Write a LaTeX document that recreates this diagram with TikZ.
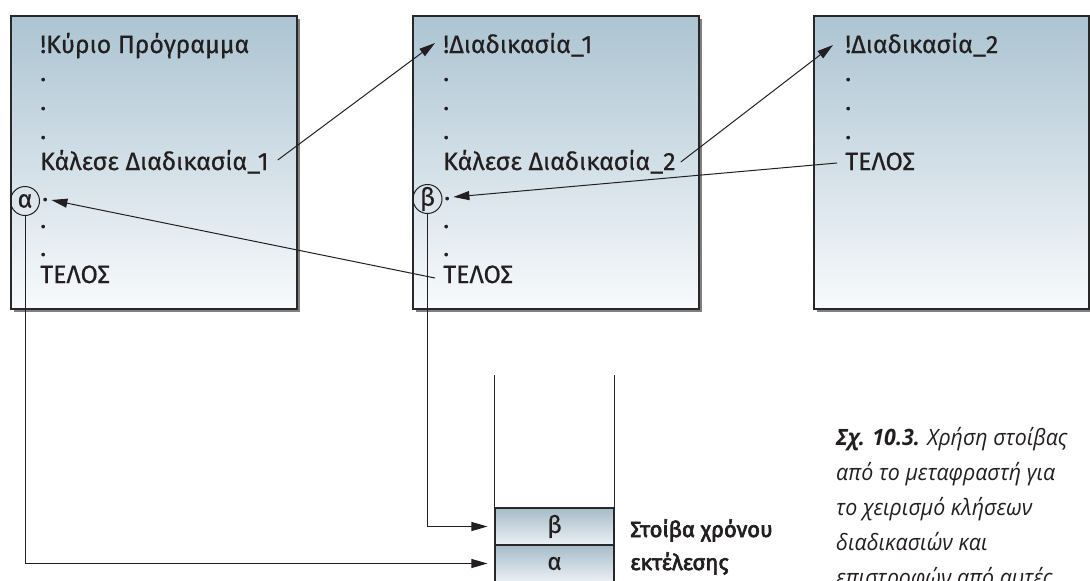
\documentclass[tikz,border=0pt]{standalone}
\usepackage{fontspec}
\setmainfont{Fira Sans}
\newfontfamily\dinf[FakeBold=0.5]{Fira Sans}
\newfontfamily\dinb[FakeBold=3]{Fira Sans}
\newfontfamily\capf[FakeStretch=0.95]{Open Sans}
\usetikzlibrary{arrows.meta,shadows,calc}
\definecolor{boxtop}{RGB}{172,196,210}
\definecolor{boxbot}{RGB}{248,250,252}
\definecolor{celltop}{RGB}{165,187,200}
\definecolor{cellbot}{RGB}{236,241,245}
\definecolor{edge}{RGB}{40,40,40}
\definecolor{ink}{RGB}{35,31,32}
\begin{document}
\begin{tikzpicture}[x=1pt,y=-1pt,
  box/.style={draw=edge, line width=1.6pt, top color=boxtop, bottom color=boxbot,
    drop shadow={shadow xshift=3.5pt,shadow yshift=-3.5pt,fill=black,opacity=0.5},
    minimum width=286pt, minimum height=293pt, anchor=north west, inner sep=0pt},
  code/.style={font=\dinf\fontsize{25}{25}\selectfont, anchor=base west, inner sep=0pt, text=ink},
  conn/.style={line width=1pt, draw=ink},
  tip/.style={-{Triangle[length=16pt,width=9pt]}},
  retmark/.style={draw=ink, line width=1pt, circle, minimum size=29pt, inner sep=0pt,
    font=\dinf\fontsize{25}{25}\selectfont, text=ink},
  cell/.style={draw=edge, line width=1.1pt, top color=celltop, bottom color=cellbot,
    minimum width=119pt, minimum height=37pt, inner sep=0pt,
    font=\dinf\fontsize{24}{24}\selectfont, text=ink},
  lbl/.style={font=\dinb\fontsize{22}{22}\selectfont, anchor=base west, inner sep=0pt, text=ink},
]
\useasboundingbox (0,0) rectangle (1090,581);
\clip (0,0) rectangle (1090,581);

% boxes
\node[box] (b1) at (10,15) {};
\node[box] (b2) at (412,15) {};
\node[box, minimum width=275pt] (b3) at (813,15) {};

% box 1
\node[code] (m0) at (40,53) {!Κύριο Πρόγραμμα};
\node[code] (m1) at (40,81) {.};
\node[code] (m2) at (40,110) {.};
\node[code] (m3) at (40,139) {.};
\node[code] (m4) at (40,170) {Κάλεσε Διαδικασία\_1};
\node[retmark] (ca) at (25,201) {α};
\node[code] (m5) at (42,201) {.};
\node[code] (m6) at (40,228) {.};
\node[code] (m7) at (40,256) {.};
\node[code] (m8) at (40,283) {ΤΕΛΟΣ};

% box 2
\node[code] (p0) at (443,53) {!Διαδικασία\_1};
\node[code] (p1) at (443,81) {.};
\node[code] (p2) at (443,110) {.};
\node[code] (p3) at (443,139) {.};
\node[code] (p4) at (443,170) {Κάλεσε Διαδικασία\_2};
\node[retmark] (cb) at (427.5,199) {β};
\node[code] (p5) at (444,200) {.};
\node[code] (p6) at (443,228) {.};
\node[code] (p7) at (443,256) {.};
\node[code] (p8) at (443,283) {ΤΕΛΟΣ};

% box 3
\node[code] (q0) at (845,53) {!Διαδικασία\_2};
\node[code] (q1) at (845,81) {.};
\node[code] (q2) at (845,110) {.};
\node[code] (q3) at (845,139) {.};
\node[code] (q4) at (845,170) {ΤΕΛΟΣ};

% stack
\node[cell] (sb) at (554.5,526.5) {β};
\node[cell] (sa) at (554.5,563.5) {α};
\draw[draw=edge, line width=1.1pt] (sb.north west) -- ++(0,-132);
\draw[draw=edge, line width=1.1pt] (sb.north east) -- ++(0,-132);
\node[lbl] (st1) at (630,537) {Στοίβα χρόνου};
\node[lbl] (st2) at (630,570) {εκτέλεσης};

% caption
\node[anchor=base west, inner sep=0pt, text=ink] (cap) at (836,445)
  {\parbox[t]{260pt}{\capf\itshape\fontsize{22.5}{35}\selectfont\raggedright
   {\bfseries Σχ. 10.3.} Χρήση στοίβας\\
   από το μεταφραστή για\\
   το χειρισμό κλήσεων\\
   διαδικασιών και\\
   επιστροφών από αυτές}};

% connectors
\draw[conn,tip] ($(m4.base east)+(9,-10)$) -- ($(p0.base west)+(-8,-10)$);
\draw[conn,tip] ($(p4.base east)+(5,-8)$) -- ($(q0.base west)+(-12,-8)$);
\draw[conn,tip] ($(q4.base west)+(-8,-7)$) -- ($(p5.base east)+(3,-3)$);
\draw[conn,tip] ($(p8.base west)+(-8,-5)$) -- ($(m5.base east)+(3,-1)$);
\draw[conn,tip,shorten >=7pt] (ca.south) |- (sa.west);
\draw[conn,tip,shorten >=7pt] (cb.south) |- (sb.west);
\end{tikzpicture}
\end{document}
